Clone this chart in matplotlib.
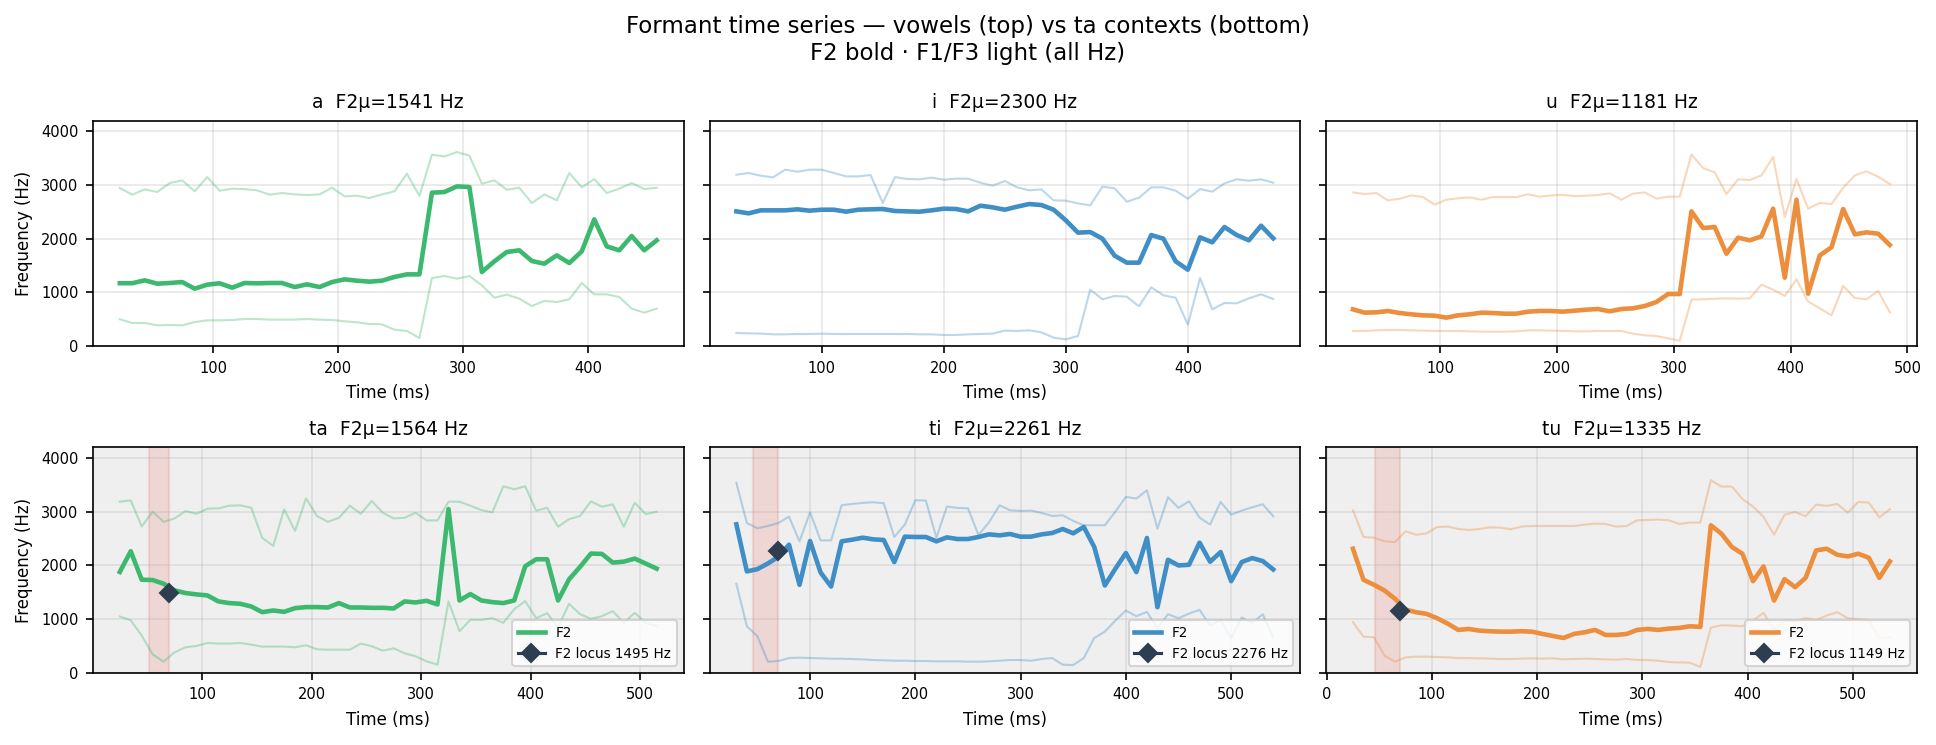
import numpy as np
import matplotlib
matplotlib.use('Agg')
import matplotlib.pyplot as plt

# vowels (top row)
names_top = ['a', 'i', 'u']
mu_top = [1541, 2300, 1181]
t_a = np.arange(25, 456, 10)
f2_a = [1170,1170,1224,1161,1174,1192,1068,1143,1168,1087,1174,1168,1174,1174,1099,1149,1099,1192,1242,1217,1199,1217,1286,1335,1335,2857,2870,2975,2963,1379,1578,1752,1783,1584,1534,1689,1547,1764,2360,1857,1783,2050,1783,1969]
f3_a = [2944,2820,2919,2870,3037,3087,2882,3149,2894,2932,2925,2901,2820,2851,2826,2814,2826,2950,2789,2801,2758,2826,2882,3211,2795,3565,3534,3615,3547,3025,3087,2913,2950,2665,2826,2714,3224,2957,3112,2851,2932,3037,2925,2950]
f1_a = [497,429,429,385,391,385,447,478,478,484,503,503,491,491,491,503,491,484,460,441,410,404,304,280,149,1267,1304,1255,1304,1130,901,957,882,745,839,820,870,1174,963,963,913,696,621,696]

t_i = np.arange(30, 471, 10)
f2_i = [2509,2472,2528,2528,2528,2547,2522,2540,2540,2503,2540,2547,2553,2516,2509,2503,2528,2559,2553,2509,2615,2584,2540,2596,2646,2627,2540,2342,2112,2124,2000,1683,1553,1553,2068,2000,1578,1422,2025,1932,2217,2068,1969,2242,2006]
f3_i = [3193,3224,3174,3143,3286,3248,3286,3286,3224,3161,3161,3186,2665,3149,3112,3106,3137,3099,3118,3118,3043,2988,3075,2957,2901,2919,2714,2708,2658,2621,2969,2938,2689,2764,2957,2957,2894,2745,2925,2876,3031,3106,3081,3106,3043]
f1_i = [242,236,230,217,217,224,224,230,224,224,224,224,224,224,224,217,217,205,205,217,224,230,286,280,292,255,155,124,186,1050,870,932,919,739,1093,944,901,398,1267,683,801,795,888,963,876]

t_u = np.arange(25, 486, 10)
f2_u = [683,621,627,652,615,590,571,565,528,571,590,621,615,602,602,640,652,652,640,658,677,689,646,689,702,745,820,969,969,2509,2199,2217,1720,2019,1969,2043,2559,1273,2727,975,1689,1839,2553,2081,2118,2093,1882]
f3_u = [2863,2832,2851,2714,2745,2807,2776,2634,2727,2752,2770,2727,2776,2776,2776,2826,2783,2807,2814,2795,2801,2814,2845,2727,2839,2863,2745,2783,2783,3571,3317,3236,2832,3106,3093,3180,3522,2404,3112,2559,2665,2646,2950,3180,3255,3155,3019]
f1_u = [280,280,292,298,298,292,286,280,280,280,273,267,267,267,273,292,292,286,280,273,273,280,280,280,230,199,186,143,99,863,870,882,888,882,888,1143,1050,932,1242,826,702,571,1118,894,870,1025,627]

# ta contexts (bottom row)
names_bot = ['ta', 'ti', 'tu']
mu_bot = [1564, 2261, 1335]
t_ta = np.arange(25, 516, 10)
f2_ta = [1878,2265,1734,1728,1659,1535,1485,1460,1441,1329,1298,1285,1235,1129,1160,1135,1204,1223,1223,1216,1298,1216,1216,1210,1210,1198,1329,1310,1341,1273,3051,1347,1466,1347,1316,1298,1347,1984,2115,2115,1347,1740,1971,2221,2215,2052,2071,2127,2034,1940]
f3_ta = [3188,3213,2726,3001,2813,2876,3013,2963,3057,3063,3113,3119,3075,2514,2364,3044,2645,3250,2920,2813,2888,3113,2963,3200,2982,2876,2888,2982,2838,2838,3188,3188,3113,3032,2988,3475,3419,3475,3019,3075,2720,2863,2920,3194,3094,3138,2720,3169,2957,3001]
f1_ta = [1048,979,692,343,206,381,474,499,555,543,543,555,524,487,487,487,474,512,437,430,430,430,543,493,412,455,362,306,212,150,1329,774,986,986,1017,930,1185,1335,1017,1110,842,1285,1092,1004,1054,1148,930,1117,930,867]

t_ti = np.arange(30, 541, 10)
f2_ti = [2766,1888,1931,2037,2162,2386,1639,2455,1869,1607,2449,2480,2517,2486,2474,2062,2536,2530,2530,2449,2523,2492,2492,2530,2579,2561,2586,2536,2536,2579,2604,2679,2598,2717,2343,1626,1938,2231,1875,2511,1221,2106,2000,2012,2424,2069,2249,1707,2062,2137,2081,1925]
f3_ti = [3539,2791,2692,2735,2791,2910,2449,2991,2467,2467,3121,3146,3165,3178,3159,2530,2760,3215,3209,2517,3097,3072,3065,2567,2804,3121,3028,3016,3022,2978,2922,2935,2829,2748,2748,2748,3003,3277,3246,3402,2685,3271,3072,3196,2891,2760,3184,2947,3022,3084,3140,2916]
f1_ti = [1657,866,679,206,218,274,280,274,268,262,262,255,249,237,231,224,224,218,218,212,212,212,206,206,212,224,237,237,224,255,274,150,143,274,648,766,972,1159,1053,1134,829,1090,1016,1103,1171,879,984,642,1028,928,1090,660]

t_tu = np.arange(25, 536, 10)
f2_tu = [2311,1732,1639,1533,1377,1178,1128,1097,1016,916,798,816,785,773,766,766,773,766,723,685,648,723,754,798,704,704,723,798,816,798,822,835,866,854,2748,2592,2343,2218,1707,1981,1346,1745,1595,1769,2280,2311,2199,2168,2218,2143,1769,2074]
f3_tu = [3028,2530,2517,2449,2436,2636,2573,2598,2716,2723,2679,2660,2679,2710,2704,2673,2723,2735,2735,2735,2735,2735,2760,2779,2773,2723,2735,2841,2847,2854,2841,2773,2798,2798,3589,3470,3470,3238,3097,2903,2573,2947,2997,2916,3134,3109,3146,2984,3184,3171,2897,3047]
f1_tu = [942,674,661,318,206,287,299,299,293,287,274,274,268,262,256,256,262,268,262,268,250,256,262,256,250,243,256,237,237,224,199,193,187,106,841,885,879,866,972,1115,804,966,960,1016,984,1065,1128,1016,997,984,642,660]

# burst window and F2 locus for the ta contexts
burst_start = [52, 46, 46]
burst_end = [70, 70, 70]
locus_t = [70, 70, 70]
locus_f = [1495, 2276, 1149]

colors = ['#3cb96f', '#3f8ec5', '#ec8e3c']

top = [(t_a, f1_a, f2_a, f3_a), (t_i, f1_i, f2_i, f3_i), (t_u, f1_u, f2_u, f3_u)]
bot = [(t_ta, f1_ta, f2_ta, f3_ta), (t_ti, f1_ti, f2_ti, f3_ti), (t_tu, f1_tu, f2_tu, f3_tu)]

fig, axes = plt.subplots(2, 3, figsize=(12.907, 4.967), dpi=150, sharey=True)
fig.subplots_adjust(left=0.048, right=0.99, top=0.838, bottom=0.097, wspace=0.044, hspace=0.45)

for j in range(3):
    ax = axes[0, j]
    t, f1, f2, f3 = top[j]
    c = colors[j]
    ax.plot(t, f1, color=c, lw=1, alpha=0.35)
    ax.plot(t, f3, color=c, lw=1, alpha=0.35)
    ax.plot(t, f2, color=c, lw=2.2)
    ax.set_title(f'{names_top[j]}  F2\u03bc={mu_top[j]} Hz', fontsize=9)
    ax.set_xlabel('Time (ms)', fontsize=8)
    ax.grid(alpha=0.3)
    ax.tick_params(labelsize=7)

for j in range(3):
    ax = axes[1, j]
    t, f1, f2, f3 = bot[j]
    c = colors[j]
    ax.set_facecolor('#efefef')
    ax.axvspan(burst_start[j], burst_end[j], color='#e74c3c', alpha=0.15)
    ax.plot(t, f1, color=c, lw=1, alpha=0.35)
    ax.plot(t, f3, color=c, lw=1, alpha=0.35)
    ax.plot(t, f2, color=c, lw=2.2, label='F2')
    ax.plot([locus_t[j]], [locus_f[j]], marker='D', color='#2c3e50', ms=6,
            label=f'F2 locus {locus_f[j]} Hz', zorder=5)
    ax.set_title(f'{names_bot[j]}  F2\u03bc={mu_bot[j]} Hz', fontsize=9)
    ax.set_xlabel('Time (ms)', fontsize=8)
    ax.grid(alpha=0.3)
    ax.tick_params(labelsize=7)
    ax.legend(loc='lower right', fontsize=6.5)

axes[0, 0].set_ylim(0, 4200)
axes[0, 0].set_ylabel('Frequency (Hz)', fontsize=8)
axes[1, 0].set_ylabel('Frequency (Hz)', fontsize=8)

fig.suptitle('Formant time series \u2014 vowels (top) vs ta contexts (bottom)\nF2 bold \u00b7 F1/F3 light (all Hz)', fontsize=11)
fig.savefig('out.png')
